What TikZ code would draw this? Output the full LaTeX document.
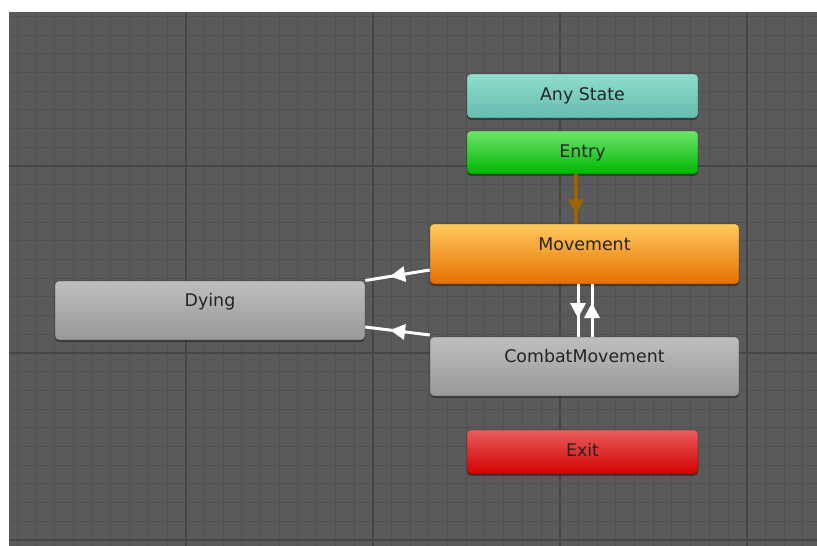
\documentclass[tikz,border=0pt]{standalone}
\usepackage{fontspec}
\setmainfont{DejaVu Sans}
\usetikzlibrary{shadows,decorations.markings}

\definecolor{canvasbg}{RGB}{90,90,90}
\definecolor{gridminor}{RGB}{81,81,81}
\definecolor{gridmajor}{RGB}{70,70,70}
\definecolor{labeltext}{RGB}{36,36,36}
\definecolor{anytop}{RGB}{143,221,204}
\definecolor{anybot}{RGB}{102,188,176}
\definecolor{entrytop}{RGB}{108,228,108}
\definecolor{entrybot}{RGB}{0,182,0}
\definecolor{movetop}{RGB}{255,202,94}
\definecolor{movebot}{RGB}{232,110,0}
\definecolor{greytop}{RGB}{190,190,190}
\definecolor{greybot}{RGB}{152,152,152}
\definecolor{exittop}{RGB}{234,92,92}
\definecolor{exitbot}{RGB}{210,0,0}
\definecolor{entryline}{RGB}{156,100,0}

\begin{document}
\begin{tikzpicture}[x=1pt,y=-1pt,
  minorline/.style={draw=gridminor, line width=1pt},
  majorline/.style={draw=gridmajor, line width=1.6pt},
  state/.style={rectangle, rounded corners=4pt, inner sep=0pt,
    draw=black, draw opacity=0.25, line width=0.6pt,
    text=labeltext, font=\fontsize{17.4}{20}\selectfont,
    text height=13pt, text depth=4pt,
    drop shadow={shadow xshift=0pt, shadow yshift=-2pt, opacity=0.35, fill=black}},
  smallstate/.style={state, minimum width=231pt, minimum height=44pt},
  bigstate/.style={state, minimum width=309pt, minimum height=59pt, text depth=21pt},
  transition/.style={line width=3pt, draw=#1, postaction={decorate},
    decoration={markings, mark=at position \markpos with
      {\fill[#1] (7.5pt,0pt) -- (-7.5pt,8pt) -- (-7.5pt,-8pt) -- cycle;}}},
  transition/.default=white
]
\def\markpos{0.5}
\useasboundingbox (0,0) rectangle (817,546);
\fill[white] (0,0) rectangle (817,546);
\fill[canvasbg] (9,12) rectangle (817,546);

% editor grid
\begin{scope}
  \clip (9,12) rectangle (817,546);
  \foreach \i in {-10,...,34}
    \draw[minorline] ({185.7+18.7*\i},12) -- ({185.7+18.7*\i},546);
  \foreach \i in {-10,...,21}
    \draw[minorline] (9,{166+18.7*\i}) -- (817,{166+18.7*\i});
  \foreach \i in {-1,...,3}
    \draw[majorline] ({185.7+187*\i},12) -- ({185.7+187*\i},546);
  \foreach \i in {-1,...,2}
    \draw[majorline] (9,{166+187*\i}) -- (817,{166+187*\i});
\end{scope}

% states
\node[smallstate, top color=anytop, bottom color=anybot] (any) at (582.5,96) {Any State};
\node[smallstate, minimum height=43pt, top color=entrytop, bottom color=entrybot] (entry) at (582.5,152.5) {Entry};
\node[bigstate, minimum height=60pt, top color=movetop, bottom color=movebot] (move) at (584.5,254) {Movement};
\node[bigstate, minimum width=310pt, top color=greytop, bottom color=greybot] (dying) at (210,310.5) {Dying};
\node[bigstate, top color=greytop, bottom color=greybot] (combat) at (584.5,366.5) {CombatMovement};
\node[smallstate, top color=exittop, bottom color=exitbot] (exit) at (582.5,452) {Exit};

% transitions
\begin{scope}
  \def\markpos{0.66}
  \draw[transition=entryline, line width=4pt]
    ([xshift=-6.5pt]entry.south) -- ([xshift=-6.5pt]entry.south |- move.north);
\end{scope}
\draw[transition] ([yshift=-16pt]move.west) -- ([yshift=30pt]dying.east);
\draw[transition] ([yshift=31.5pt]combat.west) -- ([yshift=-16.5pt]dying.east);
\draw[transition] ([xshift=-6.5pt]move.south) -- ([xshift=-6.5pt]combat.north);
\draw[transition] ([xshift=7.5pt]combat.north) -- ([xshift=7.5pt]move.south);
\end{tikzpicture}
\end{document}
